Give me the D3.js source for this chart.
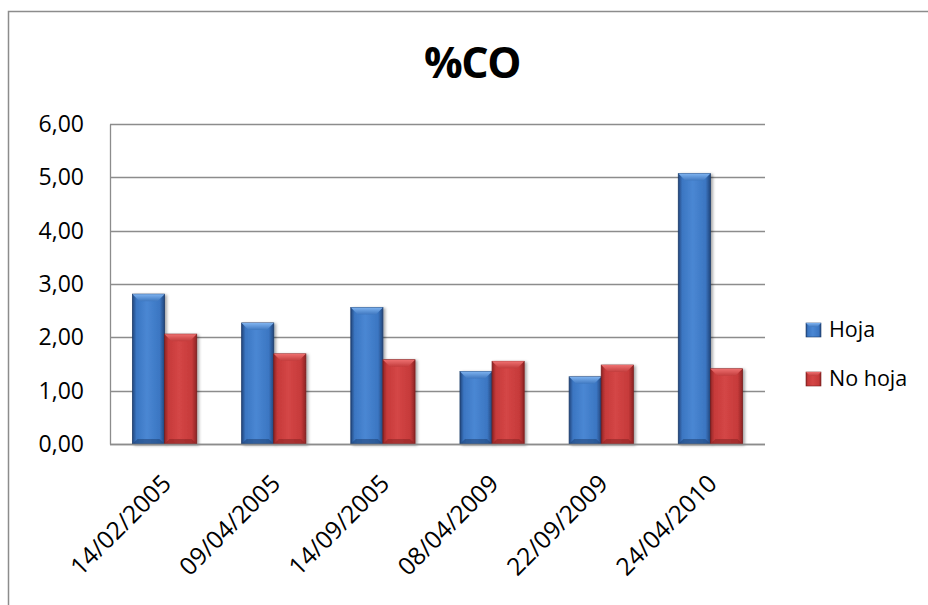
<!DOCTYPE html>
<html>
<head>
<meta charset="utf-8">
<script src="https://cdn.jsdelivr.net/npm/d3@7"></script>
<style>
  html, body { margin: 0; padding: 0; background: #fff; }
  svg { display: block; }
  text { font-family: "Open Sans", "Noto Sans", sans-serif; fill: #000; }
</style>
</head>
<body>
<svg id="chart" width="928" height="605"></svg>
<script>
// ---- data ----
const categories = ["14/02/2005", "09/04/2005", "14/09/2005", "08/04/2009", "22/09/2009", "24/04/2010"];
const seriesNames = ["Hoja", "No hoja"];
const hoja   = [2.81, 2.27, 2.56, 1.36, 1.26, 5.07];
const noHoja = [2.06, 1.69, 1.58, 1.55, 1.48, 1.41];
const yTicks = [0, 1, 2, 3, 4, 5, 6];
const title = "%CO";

const seriesValues = [hoja, noHoja];
const rows = categories.map((c, i) => ({cat: c, vals: seriesNames.map((s, j) => ({s, j, v: seriesValues[j][i]}))}));

const svg = d3.select("#chart");
const W = 928, H = 605;
const plot = {left: 110, right: 765, top: 124, bottom: 444};

// palette
const pal = {
  "Hoja":    {dark: "#22467c", mid: "#3b76c2", light: "#4a87d3", bevel: "#7fb3f0", bevelDark: "#3f78c0", edge: "#1d3d6c"},
  "No hoja": {dark: "#8e2424", mid: "#c63a3a", light: "#d44646", bevel: "#ee7070", bevelDark: "#c23c3c", edge: "#7a1e1e"}
};

const defs = svg.append("defs");
seriesNames.forEach((s, k) => {
  const p = pal[s];
  const g = defs.append("linearGradient").attr("id", "body" + k).attr("x1", "0").attr("x2", "1").attr("y1", "0").attr("y2", "0");
  g.append("stop").attr("offset", "0").attr("stop-color", p.dark);
  g.append("stop").attr("offset", "0.12").attr("stop-color", p.mid);
  g.append("stop").attr("offset", "0.45").attr("stop-color", p.light);
  g.append("stop").attr("offset", "0.85").attr("stop-color", p.mid);
  g.append("stop").attr("offset", "1").attr("stop-color", p.dark);
  const b = defs.append("linearGradient").attr("id", "bev" + k).attr("x1", "0").attr("x2", "0").attr("y1", "0").attr("y2", "1");
  b.append("stop").attr("offset", "0").attr("stop-color", p.bevel);
  b.append("stop").attr("offset", "1").attr("stop-color", p.bevelDark);
});
const f = defs.append("filter").attr("id", "shadow").attr("x", "-20%").attr("y", "-10%").attr("width", "150%").attr("height", "130%");
f.append("feDropShadow").attr("dx", 2).attr("dy", 1).attr("stdDeviation", 1.5).attr("flood-color", "#000").attr("flood-opacity", 0.35);

// background + chart border
svg.append("rect").attr("width", W).attr("height", H).attr("fill", "#fff");
svg.append("rect").attr("x", 8.5).attr("y", 11.5).attr("width", 960).attr("height", 640)
  .attr("fill", "none").attr("stroke", "#8c8c8c").attr("stroke-width", 1.5);

// scales
const x0 = d3.scaleBand().domain(categories).range([plot.left, plot.right]).padding(0);
const x1 = d3.scaleBand().domain(seriesNames).range([0, x0.bandwidth()]).paddingInner(0).paddingOuter(0.7);
const y = d3.scaleLinear().domain([0, 6]).range([plot.bottom, plot.top]);

// gridlines
svg.append("g").selectAll("line").data(yTicks).join("line")
  .attr("x1", plot.left).attr("x2", plot.right)
  .attr("y1", d => Math.round(y(d)) + 0.5).attr("y2", d => Math.round(y(d)) + 0.5)
  .attr("stroke", "#8c8c8c").attr("stroke-width", 1.3);

// y axis
const yAxis = d3.axisLeft(y).tickValues(yTicks).tickSize(0).tickPadding(26)
  .tickFormat(d => d3.format(".2f")(d).replace(".", ","));
const gy = svg.append("g").attr("transform", `translate(${plot.left},0)`).call(yAxis);
gy.select(".domain").attr("stroke", "#8c8c8c").attr("stroke-width", 1.3);
gy.selectAll("text").attr("font-size", 23).attr("font-family", "'Open Sans', sans-serif").attr("fill", "#000");

// bars
const groups = svg.append("g").selectAll("g").data(rows).join("g")
  .attr("transform", d => `translate(${x0(d.cat)},0)`);
const bar = groups.selectAll("g.bar").data(d => d.vals).join("g").attr("class", "bar")
  .attr("filter", "url(#shadow)");
bar.append("rect")
  .attr("x", d => x1(d.s)).attr("width", x1.bandwidth())
  .attr("y", d => y(d.v)).attr("height", d => y(0) - y(d.v))
  .attr("fill", d => `url(#body${d.j})`)
  .attr("stroke", d => pal[d.s].edge).attr("stroke-width", 0.8);
// top bevel
bar.append("path")
  .attr("d", d => {
    const xa = x1(d.s), xb = xa + x1.bandwidth(), yt = y(d.v), b = 7;
    return `M${xa},${yt}L${xb},${yt}L${xb - b},${yt + b}L${xa + b},${yt + b}Z`;
  })
  .attr("fill", d => `url(#bev${d.j})`);
// bottom bevel
bar.append("path")
  .attr("d", d => {
    const xa = x1(d.s), xb = xa + x1.bandwidth(), yb = y(0), b = 5;
    return `M${xa},${yb}L${xb},${yb}L${xb - b},${yb - b}L${xa + b},${yb - b}Z`;
  })
  .attr("fill", d => pal[d.s].dark).attr("opacity", 0.6);

// x axis baseline
svg.append("line").attr("x1", plot.left).attr("x2", plot.right)
  .attr("y1", Math.round(y(0)) + 0.5).attr("y2", Math.round(y(0)) + 0.5)
  .attr("stroke", "#8c8c8c").attr("stroke-width", 1.3);

// x labels
svg.append("g").selectAll("text").data(categories).join("text")
  .attr("transform", d => `translate(${x0(d) + x0.bandwidth() / 2 + 2},${479}) rotate(-45)`)
  .attr("text-anchor", "end").attr("dy", "0.35em")
  .attr("font-size", 24.5)
  .text(d => d);

// title
svg.append("text").attr("x", 472).attr("y", 78).attr("text-anchor", "middle")
  .attr("font-size", 43).attr("font-weight", "bold").attr("letter-spacing", -1.5)
  .text(title);

// legend
const legendY = [337, 386];
const lg = svg.append("g").selectAll("g").data(seriesNames).join("g");
lg.append("rect").attr("x", 806).attr("y", (d, i) => legendY[i] - 14).attr("width", 15).attr("height", 14)
  .attr("fill", (d, i) => `url(#body${i})`).attr("stroke", d => pal[d].edge).attr("stroke-width", 0.6);
lg.append("path").attr("d", (d, i) => {
    const xa = 806, xb = 821, yt = legendY[i] - 14, b = 4;
    return `M${xa},${yt}L${xb},${yt}L${xb - b},${yt + b}L${xa + b},${yt + b}Z`;
  }).attr("fill", (d, i) => `url(#bev${i})`);
lg.append("text").attr("x", 829).attr("y", (d, i) => legendY[i])
  .attr("font-size", 21.5).text(d => d);
</script>
</body>
</html>
